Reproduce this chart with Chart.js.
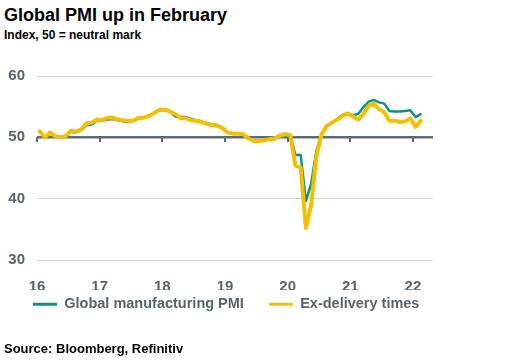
<!DOCTYPE html>
<html>
<head>
<meta charset="utf-8">
<script src="https://cdn.jsdelivr.net/npm/chart.js@4.4.1/dist/chart.umd.min.js"></script>
<style>
  html, body { margin: 0; padding: 0; background: #fff; }
  #wrap { position: relative; width: 505px; height: 363px; overflow: hidden; font-family: "Liberation Sans", Arial, sans-serif; }
  #wrap canvas { position: absolute; left: 0; top: 0; }
  .txt { position: absolute; left: 4px; font-weight: bold; color: #000; white-space: nowrap; }
  #title { top: 6px; font-size: 18px; line-height: 18px; }
  #subtitle { top: 29px; font-size: 12px; line-height: 12px; }
  #source { top: 342px; font-size: 13px; line-height: 13px; }
</style>
</head>
<body>
<div id="wrap">
  <div class="txt" id="title">Global PMI up in February</div>
  <div class="txt" id="subtitle">Index, 50 = neutral mark</div>
  <canvas id="chart" width="505" height="363"></canvas>
  <div class="txt" id="source">Source: Bloomberg, Refinitiv</div>
</div>
<script>
// monthly readings, Jan 2016 .. Feb 2022
const startYear = 16
const seriesNames = ["Global manufacturing PMI", "Ex-delivery times"]

const pmi = [
  50.9, 50.1, 50.6, 50.2, 50.0, 50.3, 50.9, 50.8, 51.2, 52.0, 52.1, 52.7,
  52.7, 52.9, 53.0, 52.8, 52.6, 52.6, 52.7, 53.1, 53.2, 53.5, 54.0, 54.5,
  54.4, 54.2, 53.4, 53.3, 53.3, 53.0, 52.8, 52.6, 52.3, 52.1, 52.0, 51.6,
  50.8, 50.6, 50.6, 50.4, 49.8, 49.4, 49.3, 49.5, 49.7, 49.8, 50.3, 50.1,
  50.4, 47.1, 47.1, 39.6, 42.4, 47.8, 50.4, 51.8, 52.3, 53.0, 53.7, 53.8,
  53.6, 53.8, 54.9, 55.8, 56.1, 55.7, 55.5, 54.3, 54.2, 54.2, 54.3, 54.4,
  53.3, 53.8
]

const exDelivery = [
  51.0, 50.0, 50.8, 50.2, 50.0, 50.2, 51.1, 50.9, 51.3, 52.3, 52.4, 52.9,
  52.8, 53.2, 53.2, 52.9, 52.8, 52.7, 52.7, 53.2, 53.2, 53.5, 54.0, 54.5,
  54.5, 54.2, 53.8, 53.1, 53.1, 52.8, 52.7, 52.5, 52.2, 52.0, 51.9, 51.5,
  50.8, 50.6, 50.6, 50.5, 49.8, 49.4, 49.4, 49.5, 49.7, 49.8, 50.3, 50.5,
  50.4, 45.4, 45.1, 35.2, 39.0, 46.9, 50.5, 51.9, 52.4, 52.9, 53.5, 53.9,
  53.4, 52.9, 53.8, 55.1, 55.5, 54.6, 54.1, 52.7, 52.7, 52.5, 52.6, 53.1,
  51.7, 52.7
]

const yTicks = [30, 40, 50, 60]
const neutral = 50
const xMin = 16, xMax = 22.32

const green = "#0f917f"
const yellow = "#f2c000"
const axisGrey = "#5f6a72"
const gridGrey = "#d9d9d9"
const labelGrey = "#58646c"
const fontFamily = "'Liberation Sans', Arial, sans-serif"

// month index -> position in years (plotted mid-month)
const toPoints = (values) => values.map((v, i) => ({ x: startYear + (i + 0.5) / 12, y: v }))

const onlyWholeYears = (s) => { s.ticks = s.ticks.filter(t => Number.isInteger(t.value)) }
const isNeutral = (ctx) => ctx.tick && ctx.tick.value === neutral

// legend sits closer to the axis labels than its item padding allows
const legendNudge = {
    id: "legendNudge",
    afterLayout(chart) {
        chart.legend.top -= 18
        chart.legend.bottom -= 18
    }
}

new Chart(document.getElementById("chart"), {
    type: "line",
    data: {
        datasets: [
            {
                label: seriesNames[1],
                data: toPoints(exDelivery),
                borderColor: yellow,
                backgroundColor: yellow,
                borderWidth: 4,
                xAxisID: "x",
                yAxisID: "y",
            },
            {
                label: seriesNames[0],
                data: toPoints(pmi),
                borderColor: green,
                backgroundColor: green,
                borderWidth: 2.5,
                xAxisID: "x",
                yAxisID: "y",
            },
        ]
    },
    plugins: [legendNudge],
    options: {
        responsive: false,
        animation: false,
        events: [],
        elements: {
            point: { radius: 0 },
            line: { tension: 0, borderJoinStyle: "round", borderCapStyle: "round" },
        },
        layout: { padding: { top: 76, left: 8, right: 0, bottom: 23.5 } },
        plugins: {
            tooltip: { enabled: false },
            legend: {
                position: "bottom",
                align: "start",
                labels: {
                    boxWidth: 24,
                    boxHeight: 3,
                    padding: 25,
                    color: labelGrey,
                    font: { family: fontFamily, size: 14.5, weight: "bold" },
                    sort: (a, b) => b.datasetIndex - a.datasetIndex,
                    generateLabels: (chart) =>
                        Chart.defaults.plugins.legend.labels.generateLabels(chart)
                            .map(l => ({ ...l, lineWidth: 0, fillStyle: l.strokeStyle })),
                },
            },
        },
        scales: {
            x: {
                type: "linear",
                position: "bottom",
                min: xMin,
                max: xMax,
                afterBuildTicks: onlyWholeYears,
                afterFit: (s) => { s.height = 30 },
                grid: { display: false },
                border: { display: false },
                ticks: {
                    stepSize: 1,
                    includeBounds: false,
                    padding: 10,
                    color: labelGrey,
                    font: { family: fontFamily, size: 15, weight: "bold" },
                    maxRotation: 0,
                    autoSkip: false,
                },
            },
            // year tick marks hanging from the 50 line
            x2: {
                type: "linear",
                position: { y: neutral },
                min: xMin,
                max: xMax,
                afterBuildTicks: onlyWholeYears,
                ticks: { display: false, stepSize: 1, includeBounds: false },
                grid: { drawOnChartArea: false, drawTicks: true, tickLength: 5, color: axisGrey, lineWidth: 2 },
                border: { display: false },
            },
            y: {
                min: 30,
                max: 60,
                afterBuildTicks: (s) => { s.ticks = yTicks.map(v => ({ value: v })) },
                afterFit: (s) => { s.width = 29 },
                border: { display: false },
                grid: {
                    drawTicks: false,
                    color: (ctx) => isNeutral(ctx) ? axisGrey : gridGrey,
                    lineWidth: (ctx) => isNeutral(ctx) ? 2.5 : 1,
                },
                ticks: {
                    padding: 12,
                    color: labelGrey,
                    font: { family: fontFamily, size: 15, weight: "bold" },
                },
            },
            // empty right-hand gutter
            yRight: {
                position: "right",
                min: 30,
                max: 60,
                afterFit: (s) => { s.width = 72 },
                grid: { display: false },
                border: { display: false },
                ticks: { display: false },
            },
        },
    },
})
</script>
</body>
</html>
